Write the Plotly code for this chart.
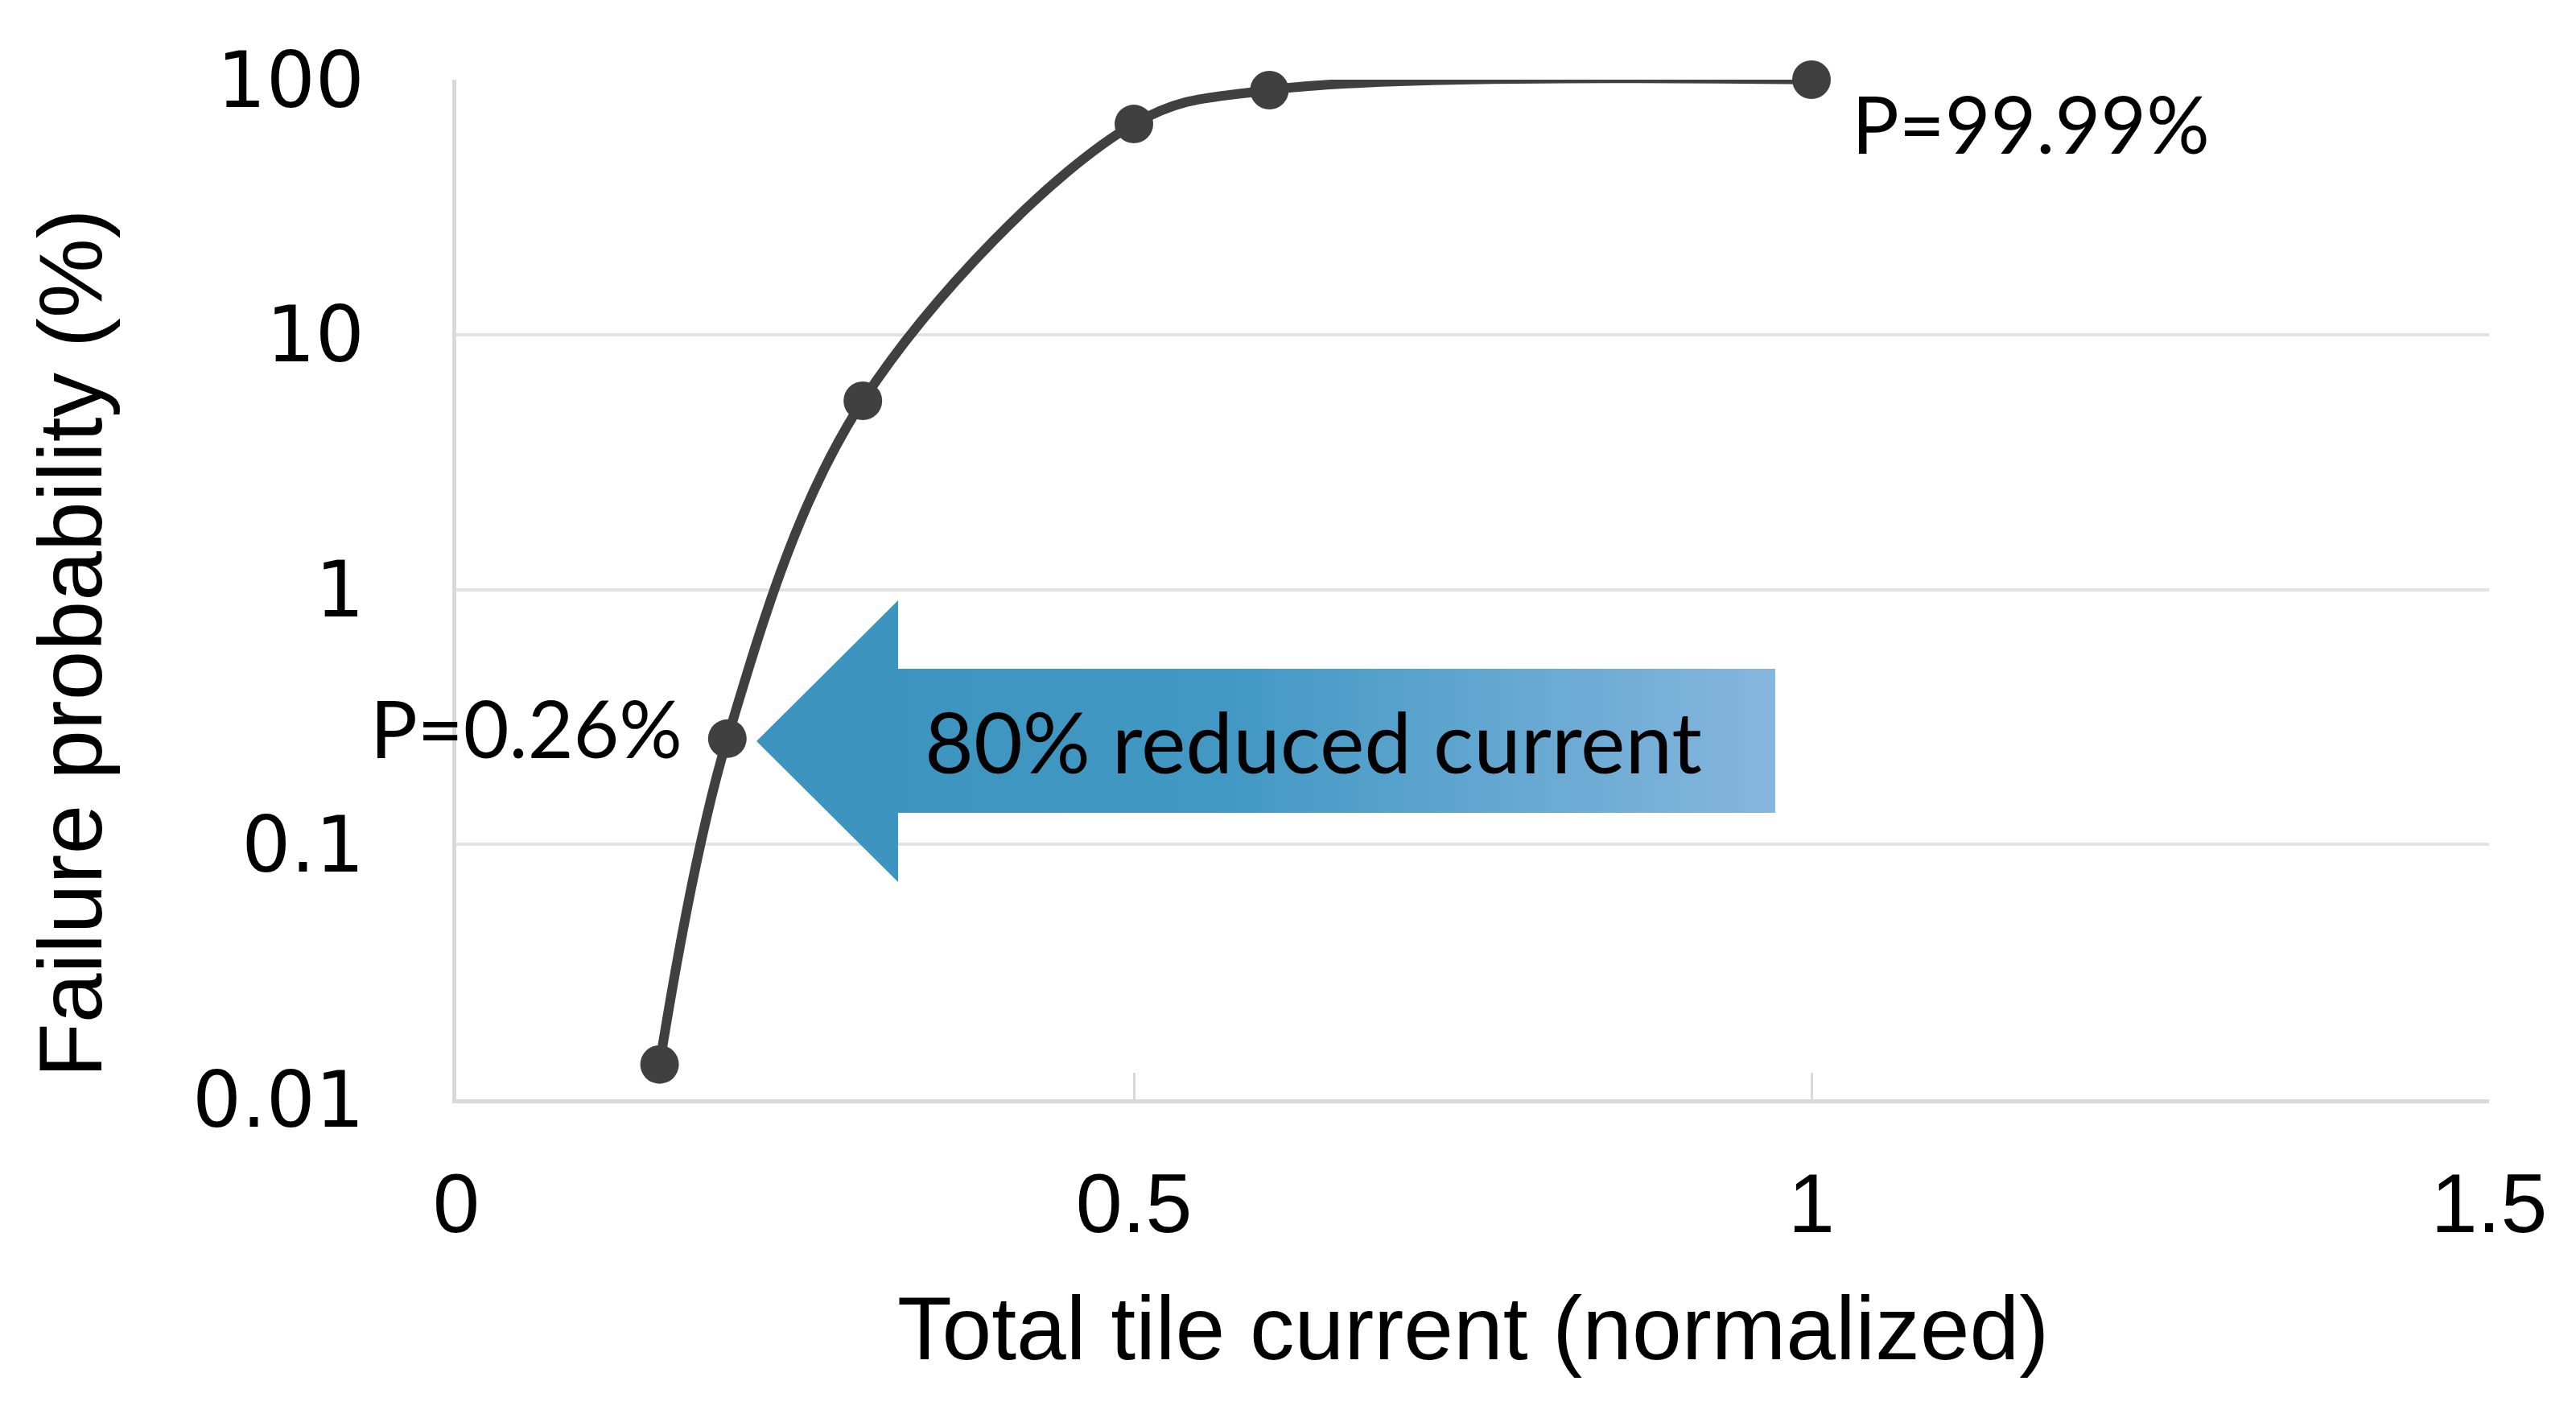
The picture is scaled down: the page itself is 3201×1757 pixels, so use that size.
import plotly.graph_objects as go

# ---- data ----
current = [0.15, 0.2, 0.3, 0.5, 0.6, 1.0]
failure_prob = [0.0137, 0.26, 5.5, 67, 91, 99.99]

x_tickvals = [0, 0.5, 1, 1.5]
x_ticktext = ["0", "0.5", "1", "1.5"]
y_tickvals = [0.01, 0.1, 1, 10, 100]
y_ticktext = ["0.01", "0.1", "1", "10", "100"]

x_title = "Total tile current (normalized)"
y_title = "Failure probability (%)"
label_low = "P=0.26%"
label_high = "P=99.99%"
arrow_text = "80% reduced current"

# ---- layout geometry (pixels) ----
W, H = 3201, 1757
PL, PR, PT, PB = 559, 3085, 91, 1358

# arrow outline in pixel coordinates
arrow_x = [932, 1108, 1108, 2198, 2198, 1108, 1108, 932]
arrow_y = [913, 738, 823, 823, 1002, 1002, 1088, 913]

fig = go.Figure()

fig.add_trace(go.Scatter(
    x=current, y=failure_prob,
    mode="lines+markers",
    line=dict(color="#404040", width=12, shape="spline", smoothing=1.0),
    marker=dict(color="#404040", size=48),
    cliponaxis=False,
    xaxis="x", yaxis="y",
    showlegend=False, hoverinfo="skip",
))

fig.add_trace(go.Scatter(
    x=arrow_x, y=arrow_y,
    mode="lines", fill="toself",
    line=dict(color="rgba(0,0,0,0)", width=0),
    fillgradient=dict(type="horizontal",
                      colorscale=[[0, "#3b93be"], [0.45, "#4098c3"], [1, "#86b6de"]]),
    xaxis="x2", yaxis="y2",
    showlegend=False, hoverinfo="skip",
))

fig.update_layout(
    width=W, height=H,
    margin=dict(l=0, r=0, t=0, b=0, autoexpand=False),
    paper_bgcolor="white",
    plot_bgcolor="rgba(0,0,0,0)",
    xaxis=dict(
        domain=[PL / W, PR / W], range=[0, 1.5], automargin=False,
        tickvals=x_tickvals, ticktext=x_ticktext,
        showgrid=False, zeroline=False,
        showline=True, linecolor="#d9d9d9", linewidth=5,
        ticks="inside", ticklen=33, tickwidth=3, tickcolor="#d9d9d9",
        tickfont=dict(family="Liberation Sans", size=104, color="black"),
        ticklabelstandoff=35,
        anchor="y",
    ),
    yaxis=dict(
        type="log", domain=[1 - PB / H, 1 - PT / H], range=[-2, 2], automargin=False,
        tickvals=y_tickvals, ticktext=y_ticktext,
        showgrid=True, gridcolor="#e2e2e2", gridwidth=4,
        zeroline=False,
        showline=True, linecolor="#d9d9d9", linewidth=5,
        ticks="",
        tickfont=dict(family="DejaVu Sans", size=96, color="black"),
        ticklabelstandoff=90,
        anchor="x",
    ),
    xaxis2=dict(domain=[0, 1], range=[0, W], visible=False, anchor="y2",
                fixedrange=True, automargin=False),
    yaxis2=dict(domain=[0, 1], range=[H, 0], visible=False, anchor="x2",
                fixedrange=True, automargin=False),
    annotations=[
        dict(text=arrow_text, x=1624, y=912, xref="x2", yref="y2",
             showarrow=False, xanchor="center", yanchor="middle",
             font=dict(family="Lato", size=105, color="black")),
        dict(text=label_high, x=2515, y=145, xref="x2", yref="y2",
             showarrow=False, xanchor="center", yanchor="middle",
             font=dict(family="Lato", size=98, color="black")),
        dict(text=label_low, x=842, y=896, xref="x2", yref="y2",
             showarrow=False, xanchor="right", yanchor="middle",
             font=dict(family="Lato", size=98, color="black")),
        dict(text=y_title, x=80, y=791, xref="x2", yref="y2", textangle=-90,
             showarrow=False, xanchor="center", yanchor="middle",
             font=dict(family="Liberation Sans", size=111, color="black")),
        dict(text=x_title, x=1822, y=1643, xref="x2", yref="y2",
             showarrow=False, xanchor="center", yanchor="middle",
             font=dict(family="Liberation Sans", size=111, color="black")),
    ],
)

fig.write_html("out.html")
